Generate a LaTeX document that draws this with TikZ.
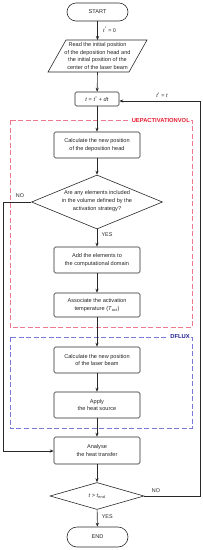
\documentclass[tikz,border=0pt]{standalone}
\usepackage{fontspec}
\setmainfont{Liberation Sans}
\usetikzlibrary{arrows.meta,shapes.geometric,shapes.misc}
\definecolor{linec}{RGB}{40,40,40}
\definecolor{redbox}{RGB}{240,120,140}
\definecolor{redlab}{RGB}{230,30,50}
\definecolor{bluebox}{RGB}{120,120,215}
\definecolor{bluelab}{RGB}{30,30,150}
\begin{document}
\begin{tikzpicture}[x=1pt,y=-1pt,
  every node/.style={font=\fontsize{5.6}{7.6}\selectfont, text=black!85, align=center},
  procbox/.style={draw=linec, line width=0.6pt, rounded corners=1.5pt, minimum width=86pt, inner sep=1pt},
  term/.style={draw=linec, line width=0.6pt, rounded corners=9pt, minimum width=61pt},
  dec/.style={draw=linec, line width=0.6pt, diamond, aspect=2.4, inner sep=0pt},
  conn/.style={draw=linec, line width=0.6pt, -{Stealth[length=4pt,width=3.2pt]}},
  plainline/.style={draw=linec, line width=0.6pt},
  lab/.style={font=\fontsize{5.4}{6}\selectfont},
  regionbox/.style={line width=0.8pt, dash pattern=on 5pt off 2.5pt},
  reglab/.style={font=\bfseries\fontsize{5.8}{6}\selectfont, fill=white, inner sep=1pt}
]
\useasboundingbox (0,0) rectangle (203,550);

% region boxes
\draw[regionbox, draw=redbox] (10,120) rectangle (192,327);
\node[reglab, text=redlab, anchor=east] (redlab) at (191,120) {UEPACTIVATIONVOL};
\draw[regionbox, draw=bluebox] (10,337) rectangle (192,428);
\node[reglab, text=bluelab, anchor=east] (bluelab) at (191,337) {DFLUX};

% nodes
\node[term, minimum height=18pt] (start) at (97.5,12) {START};
\draw[plainline] (66,40) -- (147,40) -- (129,72) -- (48,72) -- cycle;
\node (para) at (97.5,56) {Read the initial position\\of the deposition head and\\the initial position of the\\center of the laser beam};
\node[procbox, minimum width=44pt, minimum height=14pt] (tbox) at (97,99) {\textit{t} = \textit{t}\textsuperscript{*} + \textit{dt}};
\node[procbox, minimum height=26pt] (calc1) at (97,145) {Calculate the new position\\of the deposition head};
\node[dec, minimum width=131pt, minimum height=54pt] (dia1) at (97,202) {};
\node (dia1t) at (97,201) {Are any elements included\\in the volume defined by the\\activation strategy?};
\node[procbox, minimum height=26pt] (add) at (97,260) {Add the elements to\\the computational domain};
\node[procbox, minimum height=24pt] (assoc) at (97,305) {Associate the activation\\temperature (\textit{T}\textsubscript{act})};
\node[procbox, minimum height=26pt] (calc2) at (97,360) {Calculate the new position\\of the laser beam};
\node[procbox, minimum height=26pt] (apply) at (97,405) {Apply\\the heat source};
\node[procbox, minimum height=27pt] (analyse) at (97,450.5) {Analyse\\the heat transfer};
\node[dec, minimum width=94pt, minimum height=27pt] (dia2) at (97,496) {};
\node (dia2t) at (97,496) {\textit{t} > \textit{t}\textsubscript{end}};
\node[term, minimum height=20pt, rounded corners=10pt] (end) at (97.5,537) {END};

% connectors
\draw[conn] (start) -- (para.center |- 0,40) node[lab, pos=0.45, right=2pt] (l0) {\textit{t}\textsuperscript{*} = 0};
\draw[conn] (para.center |- 0,72) -- (tbox);
\draw[conn] (tbox) -- (calc1);
\draw[conn] (calc1) -- (dia1);
\draw[conn] (dia1) -- (add) node[lab, pos=0.3, right=1pt] (lyes1) {YES};
\draw[conn] (add) -- (assoc);
\draw[conn] (assoc) -- (calc2);
\draw[conn] (calc2) -- (apply);
\draw[conn] (apply) -- (analyse);
\draw[conn] (analyse) -- (dia2);
\draw[conn] (dia2) -- (end) node[lab, pos=0.4, right=1pt] (lyes2) {YES};
\coordinate (nl) at (3,202);
\coordinate (nb) at (3,451);
\draw[conn] (dia1.west) -- (nl) -- (nb) -- (analyse.west |- nb);
\node[lab] (lno1) at (20,196) {NO};
\coordinate (fr) at (200,496);
\coordinate (ft) at (200,101);
\draw[conn] (dia2.east) -- (fr) -- (ft) -- (tbox.east |- ft);
\node[lab] (lno2) at (156,491) {NO};
\node[lab] (lfb) at (162,95) {\textit{t}\textsuperscript{*} = \textit{t}};
\end{tikzpicture}
\end{document}
